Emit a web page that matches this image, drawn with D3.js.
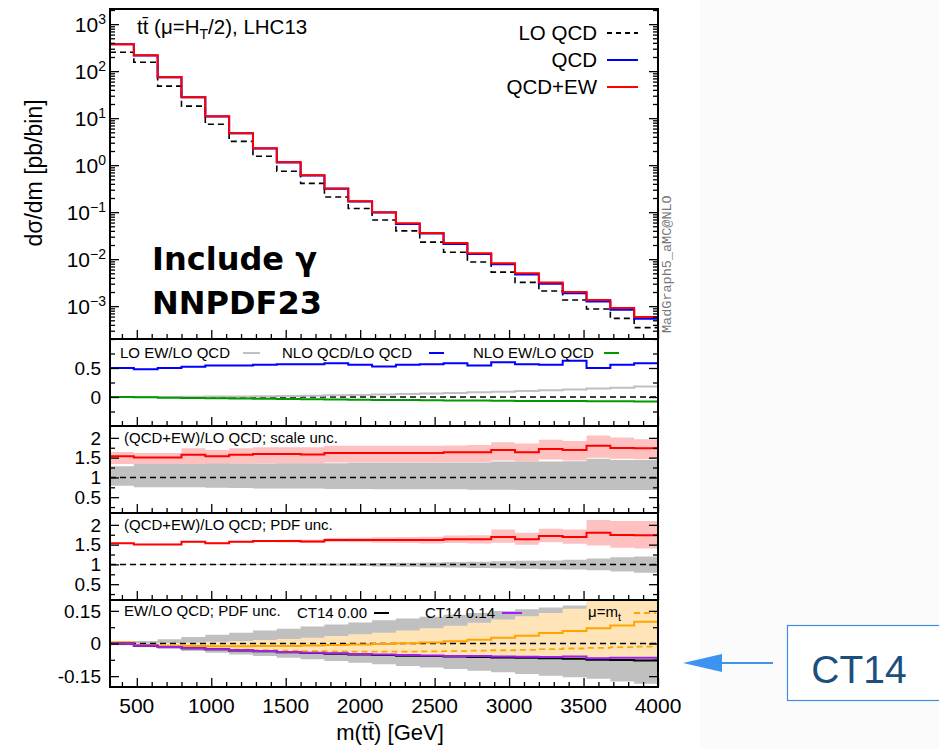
<!DOCTYPE html>
<html>
<head>
<meta charset="utf-8">
<script src="https://cdn.jsdelivr.net/npm/d3@7"></script>
<style>
  body { margin: 0; background: #fff; }
  svg { display: block; }
  text { font-family: "Liberation Sans", Arial, sans-serif; fill: #000; }
</style>
</head>
<body>
<svg id="chart" width="939" height="749"></svg>
<script>
// Inputs

// bin edges of m(tt) in GeV
const binEdges = [320, 480, 640, 800, 960, 1120, 1280, 1440, 1600, 1760, 1920, 2080,
  2240, 2400, 2560, 2720, 2880, 3040, 3200, 3360, 3520, 3680, 3840, 4000];
const xTickLabels = [500, 1000, 1500, 2000, 2500, 3000, 3500, 4000];

// main panel, d sigma / dm [pb/bin]
const loQCD = [253, 155, 48, 18, 7.4, 3.2, 1.55, 0.74, 0.41, 0.21, 0.12, 0.068, 0.04,
  0.023, 0.014, 0.0087, 0.0053, 0.0032, 0.0021, 0.00135, 0.00087, 0.00055, 0.00035];
const qcd = [372, 216, 73.8, 27.7, 10.9, 4.75, 2.27, 1.14, 0.6, 0.315, 0.168, 0.098, 0.056,
  0.035, 0.021, 0.0128, 0.0078, 0.0047, 0.003, 0.00188, 0.00125, 0.00084, 0.00054];
const qcdEW = [375, 218, 74.5, 28, 11, 4.8, 2.3, 1.16, 0.61, 0.32, 0.171, 0.1, 0.058,
  0.036, 0.022, 0.0134, 0.0082, 0.005, 0.0032, 0.002, 0.00135, 0.00091, 0.00059];
const logTickExps = [3, 2, 1, 0, -1, -2, -3];

// ratio panel 1
const loEWRatio = [0, 0, 0.002, 0.004, 0.007, 0.01, 0.014, 0.018, 0.023, 0.029, 0.036, 0.043,
  0.051, 0.06, 0.07, 0.08, 0.092, 0.104, 0.117, 0.13, 0.145, 0.16, 0.18];
const nloQCDRatio = [0.5, 0.48, 0.5, 0.52, 0.545, 0.545, 0.555, 0.565, 0.565, 0.58, 0.555,
  0.525, 0.555, 0.565, 0.58, 0.545, 0.6, 0.565, 0.555, 0.625, 0.5, 0.555, 0.58];
const nloEWRatio = [0, -0.005, -0.011, -0.017, -0.022, -0.027, -0.031, -0.035, -0.039, -0.043,
  -0.047, -0.05, -0.053, -0.056, -0.059, -0.062, -0.064, -0.067, -0.069, -0.071, -0.073,
  -0.075, -0.077];

// (QCD+EW)/LO QCD, shared by ratio panels 2 and 3
const fullRatio = [1.534, 1.506, 1.506, 1.57, 1.534, 1.57, 1.589, 1.589, 1.58, 1.616, 1.616,
  1.616, 1.616, 1.616, 1.635, 1.635, 1.69, 1.635, 1.718, 1.69, 1.8, 1.745, 1.736];

// ratio panel 2, scale uncertainty
const scaleRedHi = [1.644, 1.616, 1.616, 1.736, 1.69, 1.736, 1.764, 1.764, 1.764, 1.8, 1.8, 1.8,
  1.8, 1.8, 1.81, 1.82, 1.89, 1.856, 1.95, 1.92, 2.06, 2.01, 1.966];
const scaleRedLo = [1.34, 1.3, 1.3, 1.34, 1.32, 1.35, 1.36, 1.36, 1.36, 1.38, 1.38, 1.38, 1.38,
  1.38, 1.39, 1.39, 1.43, 1.4, 1.45, 1.43, 1.5, 1.47, 1.46];
const scaleLOHi = [1.28, 1.34, 1.34, 1.34, 1.35, 1.35, 1.35, 1.36, 1.36, 1.36, 1.37, 1.37, 1.37,
  1.37, 1.38, 1.38, 1.4, 1.4, 1.4, 1.41, 1.47, 1.44, 1.44];
const scaleLOLo = [0.79, 0.75, 0.75, 0.75, 0.74, 0.73, 0.72, 0.72, 0.72, 0.71, 0.71, 0.7, 0.7,
  0.7, 0.7, 0.69, 0.69, 0.68, 0.68, 0.68, 0.68, 0.68, 0.68];

// ratio panel 3, PDF uncertainty
const pdfRedHi = [1.545, 1.518, 1.52, 1.585, 1.553, 1.595, 1.62, 1.625, 1.625, 1.67, 1.675,
  1.685, 1.69, 1.7, 1.73, 1.74, 1.88, 1.8, 1.9, 1.88, 2.12, 2.1, 2.1];
const pdfRedLo = [1.523, 1.494, 1.49, 1.555, 1.515, 1.545, 1.56, 1.555, 1.54, 1.565, 1.56,
  1.55, 1.54, 1.53, 1.54, 1.53, 1.55, 1.5, 1.56, 1.52, 1.48, 1.42, 1.4];
const pdfLOHi = [1.003, 1.004, 1.005, 1.006, 1.008, 1.01, 1.012, 1.015, 1.02, 1.025, 1.03,
  1.035, 1.04, 1.05, 1.06, 1.07, 1.08, 1.09, 1.1, 1.12, 1.15, 1.18, 1.2];
const pdfLOLo = [0.997, 0.996, 0.995, 0.993, 0.99, 0.987, 0.983, 0.978, 0.972, 0.965, 0.958,
  0.95, 0.94, 0.93, 0.92, 0.91, 0.9, 0.89, 0.88, 0.87, 0.85, 0.82, 0.79];

// ratio panel 4, EW/LO QCD
const ewPdfLo = [-0.008, -0.015, -0.025, -0.035, -0.043, -0.05, -0.058, -0.066, -0.072, -0.08,
  -0.088, -0.095, -0.103, -0.11, -0.117, -0.125, -0.132, -0.14, -0.148, -0.155, -0.162,
  -0.175, -0.185];
const ewPdfHi = [0.008, 0.012, 0.02, 0.03, 0.04, 0.05, 0.06, 0.068, 0.078, 0.087, 0.097, 0.107,
  0.115, 0.123, 0.132, 0.14, 0.15, 0.158, 0.166, 0.175, 0.183, 0.192, 0.2];
const muMtLo = [-0.004, -0.012, -0.018, -0.024, -0.028, -0.032, -0.036, -0.04, -0.043, -0.046,
  -0.049, -0.052, -0.055, -0.057, -0.059, -0.061, -0.063, -0.065, -0.066, -0.068, -0.07,
  -0.07, -0.07];
const muMtHi = [0.008, 0.0, 0.002, 0.005, 0.008, 0.012, 0.016, 0.021, 0.027, 0.034, 0.042,
  0.05, 0.06, 0.07, 0.082, 0.095, 0.11, 0.125, 0.14, 0.16, 0.2, 0.21, 0.22];
const muMtCentral = [0.006, -0.008, -0.01, -0.012, -0.013, -0.013, -0.012, -0.011, -0.009,
  -0.007, -0.005, -0.002, 0.001, 0.005, 0.01, 0.017, 0.026, 0.036, 0.048, 0.058, 0.07,
  0.083, 0.1];
const muMtDashed = [0.002, -0.01, -0.016, -0.021, -0.025, -0.028, -0.031, -0.033, -0.035,
  -0.036, -0.037, -0.037, -0.037, -0.036, -0.035, -0.033, -0.031, -0.029, -0.026, -0.023,
  -0.02, -0.017, -0.014];
const ct14Zero = [0, -0.01, -0.016, -0.022, -0.027, -0.032, -0.036, -0.04, -0.044, -0.047,
  -0.05, -0.053, -0.056, -0.058, -0.06, -0.062, -0.064, -0.066, -0.068, -0.07, -0.075,
  -0.076, -0.078];
const ct14Photon = [0, -0.01, -0.016, -0.022, -0.027, -0.031, -0.035, -0.039, -0.042, -0.045,
  -0.048, -0.051, -0.053, -0.055, -0.057, -0.058, -0.06, -0.061, -0.062, -0.06, -0.068,
  -0.066, -0.066];

// Layout
const frameL = 110, frameR = 658;
const svg = d3.select("#chart");

svg.append("rect").attr("width", 939).attr("height", 749).attr("fill", "#fff");
svg.append("rect").attr("x", 700).attr("width", 239).attr("height", 749).attr("fill", "#fbfbfb");

const x = d3.scaleLinear()
  .domain([binEdges[0], binEdges[binEdges.length - 1]])
  .range([frameL, frameR]);

const stepPts = (vals) => {
  const pts = vals.map((v, i) => [binEdges[i], v]);
  pts.push([binEdges[vals.length], vals[vals.length - 1]]);
  return pts;
};
const bandPts = (lo, hi) => {
  const pts = lo.map((v, i) => [binEdges[i], v, hi[i]]);
  pts.push([binEdges[lo.length], lo[lo.length - 1], hi[hi.length - 1]]);
  return pts;
};

const makePanel = (id, y0, y1, y) => {
  svg.append("clipPath").attr("id", "clip-" + id)
    .append("rect")
    .attr("x", frameL).attr("y", y0)
    .attr("width", frameR - frameL).attr("height", y1 - y0);
  const g = svg.append("g").classed(id, true);
  const plot = g.append("g").attr("clip-path", `url(#clip-${id})`);
  return { id, g, plot, y, top: y0, bottom: y1 };
};

const drawStep = (p, vals, color, width, dash) => {
  const line = d3.line()
    .x((d) => x(d[0])).y((d) => p.y(d[1]))
    .curve(d3.curveStepAfter);
  p.plot.append("path")
    .attr("d", line(stepPts(vals)))
    .attr("fill", "none")
    .attr("stroke", color)
    .attr("stroke-width", width)
    .attr("stroke-dasharray", dash || null);
};

const drawBand = (p, lo, hi, color) => {
  const area = d3.area()
    .x((d) => x(d[0])).y0((d) => p.y(d[1])).y1((d) => p.y(d[2]))
    .curve(d3.curveStepAfter);
  p.plot.append("path").attr("d", area(bandPts(lo, hi))).attr("fill", color);
};

const drawRef = (p, v) => {
  p.plot.append("line")
    .attr("x1", frameL).attr("x2", frameR)
    .attr("y1", p.y(v)).attr("y2", p.y(v))
    .attr("stroke", "#000").attr("stroke-width", 1.5)
    .attr("stroke-dasharray", "6,4");
};

const noDomain = (g) => g.select(".domain").remove();

const tickSet = (p, axisFn, pos, scale, values, size) => {
  const tg = p.g.append("g")
    .attr("transform", pos)
    .call(axisFn(scale).tickValues(values).tickSize(-size).tickFormat(""))
    .call(noDomain);
  tg.selectAll(".tick line").attr("stroke", "#000").attr("stroke-width", 1.3);
  return tg;
};

const drawFrame = (p, yMajor, yMinor) => {
  const xMinor = d3.range(400, 4001, 100).filter((v) => v % 500 !== 0);
  tickSet(p, d3.axisBottom, `translate(0,${p.bottom})`, x, xTickLabels, 9);
  tickSet(p, d3.axisBottom, `translate(0,${p.bottom})`, x, xMinor, 5);
  tickSet(p, d3.axisLeft, `translate(${frameL},0)`, p.y, yMajor, 9);
  tickSet(p, d3.axisLeft, `translate(${frameL},0)`, p.y, yMinor, 5);
  tickSet(p, d3.axisRight, `translate(${frameR},0)`, p.y, yMajor, 9);
  tickSet(p, d3.axisRight, `translate(${frameR},0)`, p.y, yMinor, 5);
  p.g.append("rect")
    .attr("x", frameL).attr("y", p.top)
    .attr("width", frameR - frameL).attr("height", p.bottom - p.top)
    .attr("fill", "none").attr("stroke", "#000").attr("stroke-width", 2);
};

const yLabels = (p, labels) => {
  p.g.selectAll("text.ylab")
    .data(labels)
    .join("text")
    .classed("ylab", true)
    .attr("x", 101)
    .attr("y", (d) => p.y(d.v))
    .attr("dy", "0.35em")
    .attr("text-anchor", "end")
    .style("font-size", "19px")
    .text((d) => d.t);
};

const legendLine = (g, x1, x2, y, color, dash) => {
  g.append("line")
    .attr("x1", x1).attr("x2", x2).attr("y1", y).attr("y2", y)
    .attr("stroke", color).attr("stroke-width", 2)
    .attr("stroke-dasharray", dash || null);
};

// Main panel
const yMain = d3.scaleLog().domain([2.0e-4, 2.1e3]).range([339, 9]);
const mainPanel = makePanel("main", 9, 339, yMain);
drawStep(mainPanel, loQCD, "#000", 1.6, "6,4");
drawStep(mainPanel, qcd, "#0000ff", 2);
drawStep(mainPanel, qcdEW, "#ff0000", 2);

const isDecade = (v) => Math.abs(Math.log10(v) - Math.round(Math.log10(v))) < 1e-9;
const logTicks = yMain.ticks();
drawFrame(mainPanel, logTicks.filter(isDecade), logTicks.filter((v) => !isDecade(v)));

const logLab = mainPanel.g.selectAll("text.loglab")
  .data(logTickExps)
  .join("text")
  .classed("loglab", true)
  .attr("x", 106)
  .attr("y", (d) => yMain(Math.pow(10, d)))
  .attr("dy", "0.36em")
  .attr("text-anchor", "end")
  .style("font-size", "21px");
logLab.append("tspan").text("10");
logLab.append("tspan")
  .attr("dy", "-0.55em")
  .style("font-size", "14px")
  .text((d) => (d < 0 ? "\u2212" + Math.abs(d) : d));

// title and legend
const title = mainPanel.g.append("text").attr("x", 137).attr("y", 34).style("font-size", "20.5px");
title.append("tspan").text("tt\u0304 (\u03bc=H");
title.append("tspan").attr("dy", 5).style("font-size", "14px").text("T");
title.append("tspan").attr("dy", -5).text("/2), LHC13");

const topLegend = [
  { name: "LO QCD", color: "#000", dash: "5,4" },
  { name: "QCD", color: "#0000ff" },
  { name: "QCD+EW", color: "#ff0000" },
];
topLegend.forEach((d, i) => {
  const yy = 33 + i * 27;
  mainPanel.g.append("text")
    .attr("x", 597).attr("y", yy).attr("dy", "0.36em")
    .attr("text-anchor", "end").style("font-size", "20.5px")
    .text(d.name);
  legendLine(mainPanel.g, 607, 638, yy, d.color, d.dash);
});

mainPanel.g.append("text")
  .attr("x", 152).attr("y", 270)
  .style("font-family", "'DejaVu Sans', sans-serif")
  .style("font-weight", "bold").style("font-size", "32px")
  .text("Include \u03b3");
mainPanel.g.append("text")
  .attr("x", 152).attr("y", 314)
  .style("font-family", "'DejaVu Sans', sans-serif")
  .style("font-weight", "bold").style("font-size", "32px")
  .text("NNPDF23");

svg.append("text")
  .attr("transform", "translate(42,173) rotate(-90)")
  .attr("text-anchor", "middle")
  .style("font-size", "23px")
  .text("d\u03c3/dm [pb/bin]");

svg.append("text")
  .attr("transform", "translate(671,333) rotate(-90)")
  .style("font-family", "'Liberation Mono', monospace")
  .style("font-size", "13.5px")
  .style("fill", "#777")
  .text("MadGraph5_aMC@NLO");

// Ratio panel 1
const yR1 = d3.scaleLinear().domain([-0.5, 1.0]).range([426, 339]);
const r1 = makePanel("r1", 339, 426, yR1);
drawRef(r1, 0);
drawStep(r1, loEWRatio, "#c0c0c0", 2);
drawStep(r1, nloEWRatio, "#009a00", 2);
drawStep(r1, nloQCDRatio, "#0000ff", 2);
drawFrame(r1, [0, 0.5], [-0.25, 0.25, 0.75]);
yLabels(r1, [{ v: 0.5, t: "0.5" }, { v: 0, t: "0" }]);

const r1Legend = [
  { name: "LO EW/LO QCD", x: 120, l1: 243, l2: 260, color: "#c0c0c0" },
  { name: "NLO QCD/LO QCD", x: 282, l1: 429, l2: 444, color: "#0000ff" },
  { name: "NLO EW/LO QCD", x: 473, l1: 604, l2: 619, color: "#009a00" },
];
r1Legend.forEach((d) => {
  r1.g.append("text").attr("x", d.x).attr("y", 358).style("font-size", "15px").text(d.name);
  legendLine(r1.g, d.l1, d.l2, 353, d.color);
});

// Ratio panel 2, scale unc.
const yR2 = d3.scaleLinear().domain([0.1, 2.3]).range([513, 426]);
const r2 = makePanel("r2", 426, 513, yR2);
drawBand(r2, scaleRedLo, scaleRedHi, "#ffc0c0");
drawBand(r2, scaleLOLo, scaleLOHi, "#c0c0c0");
drawRef(r2, 1);
drawStep(r2, fullRatio, "#ff0000", 2);
drawFrame(r2, [0.5, 1, 1.5, 2], [0.25, 0.75, 1.25, 1.75]);
yLabels(r2, [{ v: 2, t: "2" }, { v: 1.5, t: "1.5" }, { v: 1, t: "1" }, { v: 0.5, t: "0.5" }]);
r2.g.append("text").attr("x", 124).attr("y", 443).style("font-size", "15px")
  .text("(QCD+EW)/LO QCD; scale unc.");

// Ratio panel 3, PDF unc.
const yR3 = d3.scaleLinear().domain([0.1, 2.3]).range([600, 513]);
const r3 = makePanel("r3", 513, 600, yR3);
drawBand(r3, pdfRedLo, pdfRedHi, "#ffc0c0");
drawBand(r3, pdfLOLo, pdfLOHi, "#c0c0c0");
drawRef(r3, 1);
drawStep(r3, fullRatio, "#ff0000", 2);
drawFrame(r3, [0.5, 1, 1.5, 2], [0.25, 0.75, 1.25, 1.75]);
yLabels(r3, [{ v: 2, t: "2" }, { v: 1.5, t: "1.5" }, { v: 1, t: "1" }, { v: 0.5, t: "0.5" }]);
r3.g.append("text").attr("x", 124).attr("y", 530).style("font-size", "15px")
  .text("(QCD+EW)/LO QCD; PDF unc.");

// Ratio panel 4, EW/LO QCD
const yR4 = d3.scaleLinear().domain([-0.2, 0.2]).range([687, 600]);
const r4 = makePanel("r4", 600, 687, yR4);
drawBand(r4, ewPdfLo, ewPdfHi, "#c0c0c0");
drawBand(r4, muMtLo, muMtHi, "#ffe4b8");
drawRef(r4, 0);
drawStep(r4, muMtDashed, "#ffa500", 1.8, "6,4");
drawStep(r4, muMtCentral, "#ffa500", 2);
drawStep(r4, ct14Zero, "#000", 2);
drawStep(r4, ct14Photon, "#a020f0", 2);
drawFrame(r4, [-0.15, 0, 0.15], [-0.075, 0.075]);
yLabels(r4, [{ v: 0.15, t: "0.15" }, { v: 0, t: "0" }, { v: -0.15, t: "-0.15" }]);

r4.g.append("text").attr("x", 124).attr("y", 616).style("font-size", "15px")
  .text("EW/LO QCD; PDF unc.");
r4.g.append("text").attr("x", 297).attr("y", 618).style("font-size", "15px").text("CT14 0.00");
legendLine(r4.g, 374, 389, 613, "#000");
r4.g.append("text").attr("x", 425).attr("y", 618).style("font-size", "15px").text("CT14 0.14");
legendLine(r4.g, 502, 522, 613, "#a020f0");
const muLab = r4.g.append("text").attr("x", 588).attr("y", 617).style("font-size", "15px");
muLab.append("tspan").text("\u03bc=m");
muLab.append("tspan").attr("dy", 4).style("font-size", "11px").text("t");
legendLine(r4.g, 634, 656, 613, "#ffa500", "6,4");

// x axis labels
svg.selectAll("text.xlab")
  .data(xTickLabels)
  .join("text")
  .classed("xlab", true)
  .attr("x", (d) => x(d))
  .attr("y", 713)
  .attr("text-anchor", "middle")
  .style("font-size", "21px")
  .text((d) => d);

svg.append("text")
  .attr("x", 390).attr("y", 740)
  .attr("text-anchor", "middle")
  .style("font-size", "22px")
  .text("m(tt\u0304) [GeV]");

// CT14 callout
svg.append("rect")
  .attr("x", 787.5).attr("y", 625.5).attr("width", 160).attr("height", 75)
  .attr("fill", "#fff").attr("stroke", "#3d8fe6").attr("stroke-width", 1.2);
svg.append("text")
  .attr("x", 859).attr("y", 683)
  .attr("text-anchor", "middle")
  .style("font-size", "39px")
  .style("fill", "#1b4f7e")
  .text("CT14");
svg.append("line")
  .attr("x1", 773).attr("x2", 718).attr("y1", 663).attr("y2", 663)
  .attr("stroke", "#3d94f0").attr("stroke-width", 2);
svg.append("path")
  .attr("d", d3.line()([[683, 663], [722, 654], [722, 672]]) + "Z")
  .attr("fill", "#3d94f0");
</script>
</body>
</html>
